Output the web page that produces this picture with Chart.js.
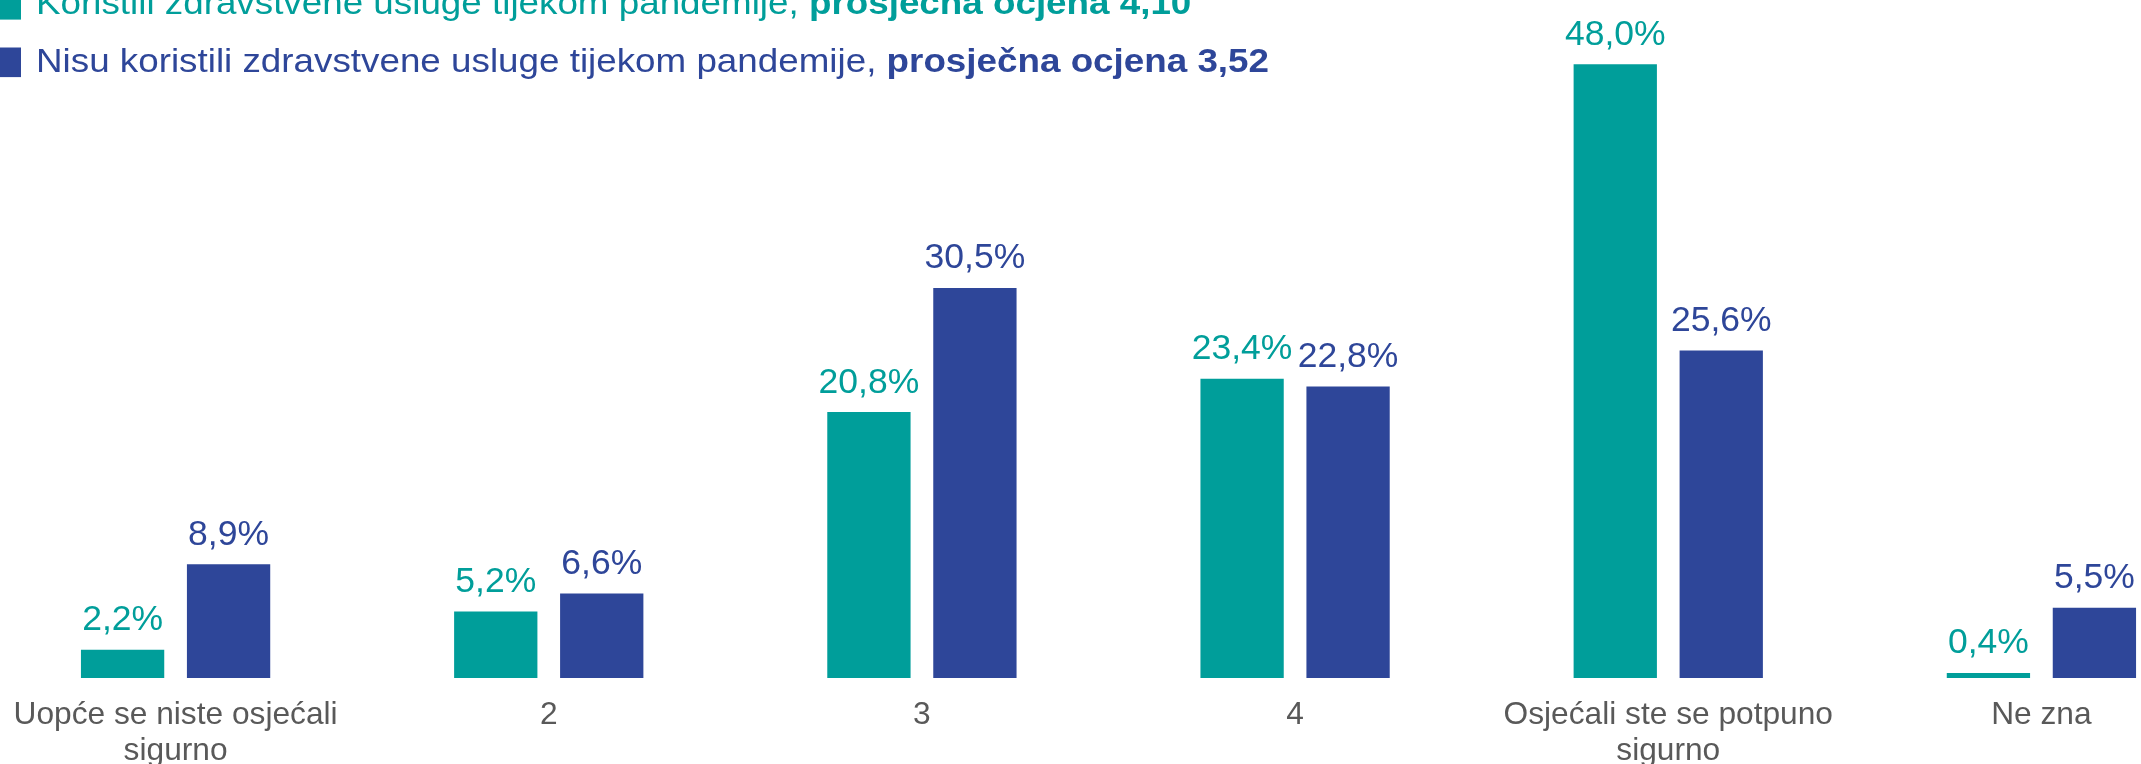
<!DOCTYPE html>
<html>
<head>
<meta charset="utf-8">
<script src="https://cdn.jsdelivr.net/npm/chart.js@4"></script>
<style>
  html, body { margin: 0; padding: 0; background: #fff; overflow: hidden; width: 2141px; height: 764px; }
  #wrap { position: absolute; left: -11px; top: 0; width: 2239px; height: 764px; }
</style>
</head>
<body>
<div id="wrap"><canvas id="chart"></canvas></div>
<script>
// ---- data ----
const categories = [['Uopće se niste osjećali', 'sigurno'], '2', '3', '4', ['Osjećali ste se potpuno', 'sigurno'], 'Ne zna'];
const usedValues = [2.2, 5.2, 20.8, 23.4, 48.0, 0.4];
const notUsedValues = [8.9, 6.6, 30.5, 22.8, 25.6, 5.5];
const seriesNames = ['Koristili zdravstvene usluge tijekom pandemije, ', 'Nisu koristili zdravstvene usluge tijekom pandemije, '];
const seriesAverages = ['4,10', '3,52'];
const yMax = 52;

const TEAL = '#009E9A';
const BLUE = '#2E4699';
const FONT = '"Liberation Sans", Arial, sans-serif';

// value labels above bars
const valueLabels = {
  id: 'valueLabels',
  afterDatasetsDraw(chart) {
    const ctx = chart.ctx;
    ctx.save();
    ctx.font = '35.5px ' + FONT;
    ctx.textAlign = 'center';
    ctx.textBaseline = 'alphabetic';
    chart.data.datasets.forEach((ds, i) => {
      ctx.fillStyle = ds.backgroundColor;
      chart.getDatasetMeta(i).data.forEach((bar, j) => {
        ctx.fillText(ds.data[j].toFixed(1).replace('.', ',') + '%', bar.x, bar.y - 19.5);
      });
    });
    ctx.restore();
  }
};

// legend rows at the top left
const legendRows = {
  id: 'legendRows',
  afterDraw(chart) {
    const ctx = chart.ctx;
    const colors = [TEAL, BLUE];
    const baselines = [14, 71.5];
    const normal = '32.7px ' + FONT;
    const bold = 'bold 32.7px ' + FONT;
    ctx.save();
    // common horizontal scale taken from the second row
    ctx.font = normal;
    let w = ctx.measureText(seriesNames[1]).width;
    ctx.font = bold;
    w += ctx.measureText('prosječna ocjena ' + seriesAverages[1]).width;
    const sx = 1233 / w;
    seriesNames.forEach((name, i) => {
      ctx.fillStyle = colors[i];
      ctx.fillRect(2.4, baselines[i] - 24, 29.6, 29.6);
      ctx.save();
      ctx.translate(47, baselines[i]);
      ctx.scale(sx, 1);
      ctx.textBaseline = 'alphabetic';
      ctx.font = normal;
      ctx.fillText(name, 0, 0);
      const nw = ctx.measureText(name).width;
      ctx.font = bold;
      ctx.fillText('prosječna ocjena ' + seriesAverages[i], nw, 0);
      ctx.restore();
    });
    ctx.restore();
  }
};

new Chart(document.getElementById('chart'), {
  type: 'bar',
  data: {
    labels: categories,
    datasets: [
      { label: seriesNames[0], data: usedValues, backgroundColor: TEAL },
      { label: seriesNames[1], data: notUsedValues, backgroundColor: BLUE }
    ]
  },
  options: {
    responsive: true,
    maintainAspectRatio: false,
    animation: false,
    layout: { padding: { top: 13, left: 0, right: 0, bottom: 0 } },
    categoryPercentage: 0.568,
    barPercentage: 0.786,
    scales: {
      x: {
        grid: { display: false, drawTicks: false },
        border: { display: false },
        ticks: {
          color: '#595959',
          font: { family: FONT, size: 31.7, lineHeight: 1.14 },
          padding: 19,
          maxRotation: 0,
          autoSkip: false
        },
        afterFit(scale) { scale.height = 86; }
      },
      y: { display: false, min: 0, max: yMax }
    },
    plugins: { legend: { display: false }, tooltip: { enabled: false } }
  },
  plugins: [valueLabels, legendRows]
});
</script>
</body>
</html>
